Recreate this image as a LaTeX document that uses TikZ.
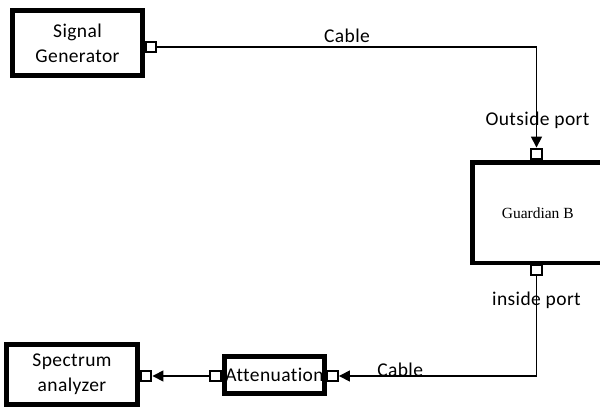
\documentclass[tikz,border=0pt]{standalone}
\usepackage{fontspec}
\setmainfont{Carlito}[Ligatures=NoCommon,LetterSpace=2]
\newfontfamily\guardfont{Liberation Serif}
\usetikzlibrary{arrows.meta,positioning}

\begin{document}
\begin{tikzpicture}[x=1pt,y=-1pt,
  block/.style={draw,line width=4.5pt,fill=white,inner sep=0pt,align=center,
    font=\fontsize{19.5}{25}\selectfont},
  port/.style={draw,line width=2.4pt,fill=white,minimum size=10.5pt,inner sep=0pt},
  wire/.style={line width=1.5pt},
  tip/.style={-{Triangle[length=11pt,width=11pt]}},
  lbl/.style={font=\fontsize{19.5}{25}\selectfont,inner sep=0pt}]

\useasboundingbox (0,0) rectangle (600,410);

% blokken
\node[block,minimum width=130pt,minimum height=65pt] (sgen) at (77.5,43) {Signal\\Generator};
\node[block,minimum width=130.5pt,minimum height=100.5pt,font=\guardfont\fontsize{15.5}{18}\selectfont] (guard) at (537.75,212.75) {Guardian B};
\node[block,minimum width=100pt,minimum height=37pt] (atten) at (274.5,375) {Attenuation};
\node[block,minimum width=131pt,minimum height=60pt] (spec) at (72,374.5) {Spectrum\\analyzer};

% poorten
\node[port] (sgenout) at (151,47) {};
\node[port] (guardin) at (536.5,154) {};
\node[port] (guardout) at (536.5,270) {};
\node[port] (attenin) at (215.5,376) {};
\node[port] (attenout) at (332.5,376) {};
\node[port] (specin) at (146,376) {};

% kabels
\draw[wire,tip] (sgenout.east) -| node[pos=0.25,lbl,anchor=south,yshift=4pt]{Cable} (guardin.north);
\draw[wire,tip] (guardout.south) |- node[pos=0.845,lbl,anchor=south,yshift=-1pt]{Cable} (attenout.east);
\draw[wire,tip] (attenin.west) -- (specin.east);

% poortlabels
\node[lbl] (outlbl) at (537.5,120) {Outside port};
\node[lbl] (inlbl) at (536.5,300) {inside port};

\end{tikzpicture}
\end{document}
